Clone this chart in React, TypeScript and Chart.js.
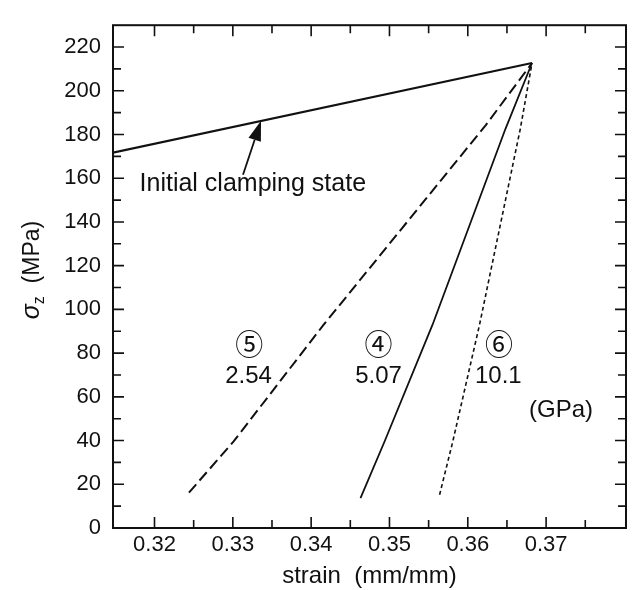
import { useEffect, useRef } from 'react';
import { Chart, registerables } from 'chart.js';
Chart.register(...registerables);

const FONT = '"Liberation Sans", Arial, Helvetica, "DejaVu Sans", "Noto Sans CJK JP", sans-serif';

// Axis ranges and ticks
const xRange = [0.3147, 0.3802];
const yRange = [0, 230];
const xTickValues = [0.32, 0.33, 0.34, 0.35, 0.36, 0.37];
const xMinorTicks = [0.325, 0.335, 0.345, 0.355, 0.365, 0.375];
const yTickValues = [0, 20, 40, 60, 80, 100, 120, 140, 160, 180, 200, 220];
const yMinorTicks = [10, 30, 50, 70, 90, 110, 130, 150, 170, 190, 210];

// Series: strain (mm/mm) vs sigma_z (MPa)
const initialX = [0.3147, 0.3682];
const initialY = [171.7, 212.7];
const mod5X = [0.3244, 0.3301, 0.3416, 0.3623, 0.3682];
const mod5Y = [16.2, 39.6, 93, 184.3, 212.7];
const mod4X = [0.3463, 0.3494, 0.3555, 0.3648, 0.3682];
const mod4Y = [13.7, 39.8, 93, 182.5, 212.7];
const mod6X = [0.3564, 0.3581, 0.3615, 0.3667, 0.3682];
const mod6Y = [15.2, 39.8, 93, 182.5, 212.7];

// Annotations
const labelTexts = ['⑤', '2.54', '④', '5.07', '⑥', '10.1', '(GPa)', 'Initial clamping state'];
const labelX = [0.3321, 0.3320, 0.3486, 0.3486, 0.3640, 0.3639, 0.3719, 0.33255];
const labelY = [84.2, 69.2, 84.2, 69.2, 84.2, 69.2, 54, 157.4];
const arrowFrom = [0.3313, 161.6];
const arrowTo = [0.3336, 186.3];

const xTitle = 'strain  (mm/mm)';
const yTitleMain = 'σ';
const yTitleSub = 'z';
const yTitleRest = '  (MPa)';

const toPts = (xs: number[], ys: number[]) => xs.map((x, i) => ({ x, y: ys[i] }));

const decorPlugin = {
  id: 'decor',
  afterDatasetsDraw(chart: any) {
    const { ctx, chartArea: a, scales } = chart;
    const x = scales.x;
    const y = scales.y;
    ctx.save();
    ctx.strokeStyle = '#111';
    ctx.fillStyle = '#111';
    // frame
    ctx.lineWidth = 2;
    ctx.strokeRect(a.left, a.top, a.right - a.left, a.bottom - a.top);
    // inward ticks
    ctx.lineWidth = 1.6;
    const drawX = (vals: number[], len: number) => {
      vals.forEach((v) => {
        const px = x.getPixelForValue(v);
        ctx.beginPath();
        ctx.moveTo(px, a.bottom);
        ctx.lineTo(px, a.bottom - len);
        ctx.moveTo(px, a.top);
        ctx.lineTo(px, a.top + len);
        ctx.stroke();
      });
    };
    const drawY = (vals: number[], len: number) => {
      vals.forEach((v) => {
        const py = y.getPixelForValue(v);
        ctx.beginPath();
        ctx.moveTo(a.left, py);
        ctx.lineTo(a.left + len, py);
        ctx.moveTo(a.right, py);
        ctx.lineTo(a.right - len, py);
        ctx.stroke();
      });
    };
    drawX(xTickValues, 11);
    drawX(xMinorTicks, 8);
    drawY(yTickValues.filter((v) => v > 0), 11);
    drawY(yMinorTicks, 8);

    // arrow
    const fx = x.getPixelForValue(arrowFrom[0]);
    const fy = y.getPixelForValue(arrowFrom[1]);
    const tx = x.getPixelForValue(arrowTo[0]);
    const ty = y.getPixelForValue(arrowTo[1]);
    const ang = Math.atan2(ty - fy, tx - fx);
    const headLen = 20;
    const headW = 6.5;
    const bx = tx - headLen * Math.cos(ang);
    const by = ty - headLen * Math.sin(ang);
    ctx.lineWidth = 1.8;
    ctx.beginPath();
    ctx.moveTo(fx, fy);
    ctx.lineTo(bx, by);
    ctx.stroke();
    ctx.beginPath();
    ctx.moveTo(tx, ty);
    ctx.lineTo(bx + headW * Math.sin(ang), by - headW * Math.cos(ang));
    ctx.lineTo(bx - headW * Math.sin(ang), by + headW * Math.cos(ang));
    ctx.closePath();
    ctx.fill();

    // labels
    ctx.textAlign = 'center';
    ctx.textBaseline = 'middle';
    labelTexts.forEach((t, i) => {
      const circled = /[④⑤⑥]/.test(t);
      const big = t.length > 10;
      ctx.font = circled
        ? `28px "Noto Sans CJK JP", "DejaVu Sans", sans-serif`
        : big
        ? `25px ${FONT}`
        : `24px ${FONT}`;
      ctx.fillText(t, x.getPixelForValue(labelX[i]), y.getPixelForValue(labelY[i]));
    });

    // x title
    ctx.font = `24px ${FONT}`;
    ctx.textBaseline = 'middle';
    ctx.fillText(xTitle, (a.left + a.right) / 2, 576);

    // y title (rotated)
    ctx.translate(39, 270);
    ctx.rotate(-Math.PI / 2);
    ctx.textAlign = 'left';
    ctx.textBaseline = 'alphabetic';
    const fMain = `italic 25px ${FONT}`;
    const fSub = `16px ${FONT}`;
    const fRest = `23px ${FONT}`;
    ctx.font = fMain;
    const w1 = ctx.measureText(yTitleMain).width;
    ctx.font = fSub;
    const w2 = ctx.measureText(yTitleSub).width;
    ctx.font = fRest;
    const w3 = ctx.measureText(yTitleRest).width;
    let cx = -(w1 + w2 + w3) / 2;
    ctx.font = fMain;
    ctx.fillText(yTitleMain, cx, 0);
    cx += w1;
    ctx.font = fSub;
    ctx.fillText(yTitleSub, cx, 5);
    cx += w2;
    ctx.font = fRest;
    ctx.fillText(yTitleRest, cx, 0);
    ctx.restore();
  },
};

export default function App() {
  const ref = useRef<HTMLCanvasElement>(null);
  useEffect(() => {
    const base = { pointRadius: 0, borderColor: '#111', fill: false, tension: 0 };
    const chart = new Chart(ref.current!, {
      type: 'line',
      data: {
        datasets: [
          { ...base, label: 'Initial clamping state', data: toPts(initialX, initialY), borderWidth: 2.2 },
          { ...base, label: '⑤ 2.54 GPa', data: toPts(mod5X, mod5Y), borderWidth: 2, borderDash: [11, 5] },
          { ...base, label: '④ 5.07 GPa', data: toPts(mod4X, mod4Y), borderWidth: 1.8 },
          { ...base, label: '⑥ 10.1 GPa', data: toPts(mod6X, mod6Y), borderWidth: 1.6, borderDash: [4, 3] },
        ],
      },
      options: {
        responsive: false,
        animation: false,
        devicePixelRatio: 1,
        layout: { padding: { left: 0, top: 14, right: 17, bottom: 0 } },
        plugins: { legend: { display: false }, tooltip: { enabled: false } },
        scales: {
          x: {
            type: 'linear',
            min: xRange[0],
            max: xRange[1],
            grid: { display: false, drawTicks: false },
            border: { display: false },
            afterBuildTicks: (s: any) => {
              s.ticks = xTickValues.map((v) => ({ value: v }));
            },
            afterFit: (s: any) => {
              s.height = 62;
            },
            ticks: {
              color: '#111',
              font: { family: FONT, size: 22 },
              padding: 4,
              maxRotation: 0,
              callback: (v: any) => Number(v).toFixed(2),
            },
          },
          y: {
            type: 'linear',
            min: yRange[0],
            max: yRange[1],
            grid: { display: false, drawTicks: false },
            border: { display: false },
            afterBuildTicks: (s: any) => {
              s.ticks = yTickValues.map((v) => ({ value: v }));
            },
            afterFit: (s: any) => {
              s.width = 113;
            },
            ticks: {
              color: '#111',
              font: { family: FONT, size: 22 },
              padding: 12,
              callback: (v: any) => String(v),
            },
          },
        },
      },
      plugins: [decorPlugin],
    });
    return () => chart.destroy();
  }, []);
  return (
    <div style={{ position: 'absolute', left: 0, top: 0, width: 643, height: 590, background: '#fff' }}>
      <canvas ref={ref} width={643} height={590} style={{ display: 'block' }} />
    </div>
  );
}
